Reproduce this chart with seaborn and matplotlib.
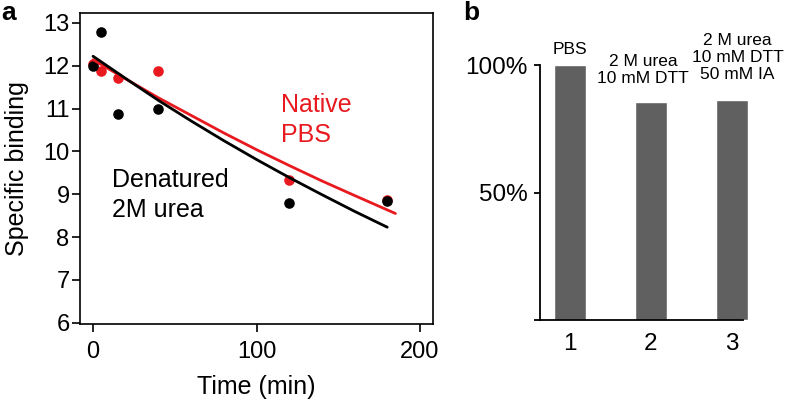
import matplotlib
matplotlib.use("Agg")
import pandas as pd
import matplotlib.pyplot as plt
import seaborn as sns

# style
sns.set_theme(style="ticks")
plt.rcParams['font.family'] = ['Liberation Sans', 'DejaVu Sans']
plt.rcParams['text.color'] = 'black'
plt.rcParams['axes.labelcolor'] = 'black'

# panel a: measured points
time_pts = [0, 5, 15, 40, 120, 180]
native_pts = [12.04, 11.88, 11.72, 11.88, 9.33, 8.86]
denat_pts = [12.00, 12.78, 10.88, 11.00, 8.80, 8.83]

# panel a: fitted curves
native_fit_t = [0, 20, 40, 60, 80, 100, 120, 140, 160, 185]
native_fit = [12.14, 11.69, 11.25, 10.84, 10.43, 10.04, 9.67, 9.31, 8.97, 8.55]
denat_fit_t = [0, 20, 40, 60, 80, 100, 120, 140, 160, 180]
denat_fit = [12.22, 11.70, 11.19, 10.71, 10.25, 9.81, 9.39, 8.99, 8.60, 8.23]

# panel b
conditions = ['1', '2', '3']
binding_pct = [100, 85.6, 86.2]
cond_labels = ['PBS', '2 M urea\n10 mM DTT', '2 M urea\n10 mM DTT\n50 mM IA']

RED = '#e8191f'
GREY = '#606060'

fig = plt.figure(figsize=(7.88, 4.01), dpi=100)

# ---------- panel a ----------
ax = fig.add_axes([80 / 788, 1 - 324 / 401, 353 / 788, 311 / 401])
sns.scatterplot(x=time_pts, y=native_pts, color=RED, s=58, linewidth=0, ax=ax, zorder=2)
sns.scatterplot(x=time_pts, y=denat_pts, color='black', s=58, linewidth=0, ax=ax, zorder=3)
sns.lineplot(x=native_fit_t, y=native_fit, color=RED, lw=2, sort=False,
             estimator=None, ax=ax, zorder=4)
sns.lineplot(x=denat_fit_t, y=denat_fit, color='black', lw=2, sort=False,
             estimator=None, ax=ax, zorder=4)

ax.set_xlim(-8, 208)
ax.set_ylim(5.97, 13.23)
ax.set_xticks([0, 100, 200])
ax.set_yticks(range(6, 14))
for sp in ax.spines.values():
    sp.set_visible(True)
    sp.set_linewidth(1.2)
    sp.set_color('black')
ax.tick_params(axis='both', length=6, width=1.2, labelsize=17, colors='black')
ax.tick_params(axis='y', pad=1.5)
ax.tick_params(axis='x', pad=6)
ax.set_xlabel('Time (min)', fontsize=18, labelpad=9)
ax.set_ylabel('Specific binding', fontsize=18, labelpad=10)

ax.text(115, 11.09, 'Native', color=RED, fontsize=18, ha='left', va='center')
ax.text(115, 10.39, 'PBS', color=RED, fontsize=18, ha='left', va='center')
ax.text(11.5, 9.34, 'Denatured', color='black', fontsize=18, ha='left', va='center')
ax.text(11.5, 8.64, '2M urea', color='black', fontsize=18, ha='left', va='center')

# ---------- panel b ----------
bx = fig.add_axes([540 / 788, 1 - 320 / 401, 220 / 788, 307 / 401])
df = pd.DataFrame({'condition': conditions, 'binding': binding_pct})
sns.barplot(data=df, x='condition', y='binding', color=GREY, saturation=1,
            width=0.395, ax=bx)
bx.set_xlim(-0.37, 2.346)
bx.set_ylim(0, 100 * (320 - 13) / (320 - 65))
bx.set_yticks([0, 50, 100])
bx.set_yticklabels(['', '50%', '100%'])
bx.spines['top'].set_visible(False)
bx.spines['right'].set_visible(False)
bx.spines['left'].set_bounds(0, 100)
bx.spines['bottom'].set_bounds(-0.37, 2.13)
for sp in ['left', 'bottom']:
    bx.spines[sp].set_linewidth(1.3)
    bx.spines[sp].set_color('black')
bx.tick_params(axis='y', length=4, width=1.3, pad=5, labelsize=17.5, colors='black')
bx.tick_params(axis='x', length=0, pad=9, labelsize=17.5, colors='black')
bx.set_xlabel('')
bx.set_ylabel('')

label_x = [0, 0.90, 2.07]
label_y = [105.9, 98.0, 103.0]
for lx, ly, txt in zip(label_x, label_y, cond_labels):
    bx.text(lx, ly, txt, fontsize=12.5, ha='center', va='center',
            linespacing=1.15, color='black')

# panel letters
fig.text(0.002, 0.997, 'a', fontsize=19, fontweight='bold', va='top', ha='left')
fig.text(463 / 788, 0.997, 'b', fontsize=19, fontweight='bold', va='top', ha='left')

fig.savefig('out.png', dpi=100)
